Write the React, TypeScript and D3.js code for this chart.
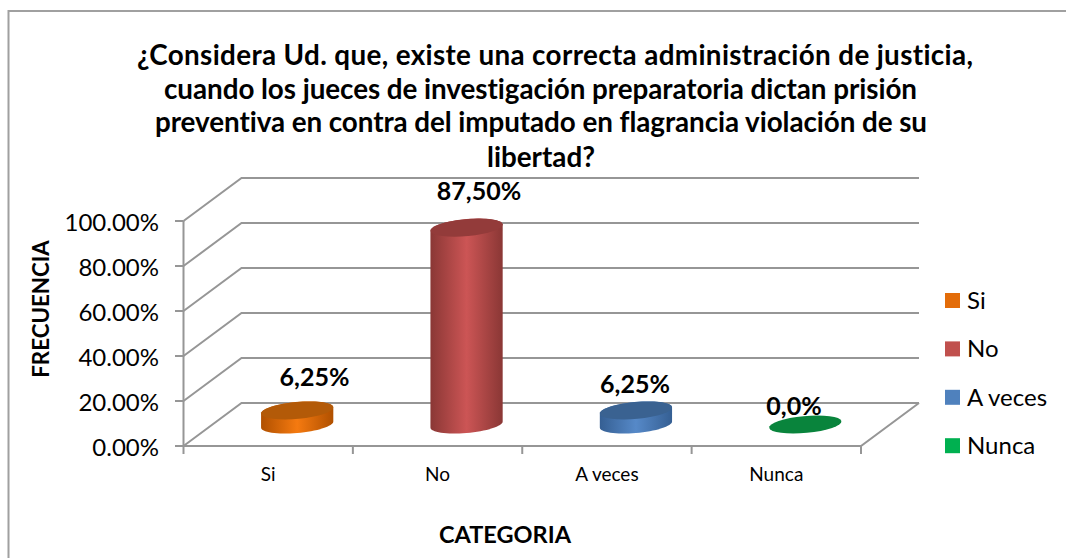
import React from "react";
import * as d3 from "d3";

const titleLines = [
  "¿Considera Ud. que, existe una correcta administración de justicia,",
  "cuando los jueces de investigación preparatoria dictan prisión",
  "preventiva en contra del imputado en flagrancia violación de su",
  "libertad?",
];
const categories = ["Si", "No", "A veces", "Nunca"];
const values = [6.25, 87.5, 6.25, 0];
const valueLabels = ["6,25%", "87,50%", "6,25%", "0,0%"];
const ticks = [0, 20, 40, 60, 80, 100];
const legendColors = ["#e36c09", "#c0504d", "#4f81bd", "#00b050"];
const edgeColors = ["#b05000", "#8a3735", "#355f93", "#09843c"];
const midColors = ["#f57a10", "#cc5555", "#5689c8", "#09843c"];
const topColors = ["#b35a08", "#933b3a", "#3a6291", "#09843c"];

const FONT = "Lato, 'Open Sans', sans-serif";
const GRID = "#969696";
// title line placement: [left edge, width, baseline]
const titleBoxes = [
  [137, 836, 65],
  [164, 753, 98.5],
  [155, 772, 132],
  [487, 108, 167],
];

const x = d3.scaleBand<string>().domain(categories).range([183.5, 861]);
const y = d3.scaleLinear().domain([0, 100]).range([446, 221]);
const DX = 58;
const DY = -43;
const R = 34;
const K = 0.21;

const ell = (cx: number, cy: number, a: number, b: number) => {
  const vx = DX * K;
  const vy = DY * K;
  const n = 32;
  return d3.range(n + 1).map((i) => {
    const t = a + ((b - a) * i) / n;
    return [cx + R * Math.cos(t) + vx * Math.sin(t), cy + vy * Math.sin(t)] as [number, number];
  });
};

export default function App() {
  const line = d3.line();
  const t0 = Math.atan((DX * K) / R);
  return (
    <svg
      width={1066}
      height={558}
      style={{ position: "absolute", left: 0, top: 0, background: "#fff", fontVariantLigatures: "none" }}
      fontFamily={FONT}
    >
      <defs>
        {categories.map((c, i) => (
          <linearGradient key={c} id={`g${i}`} x1="0" x2="1" y1="0" y2="0">
            <stop offset="0" stopColor={edgeColors[i]} />
            <stop offset="0.5" stopColor={midColors[i]} />
            <stop offset="1" stopColor={edgeColors[i]} />
          </linearGradient>
        ))}
      </defs>
      <path d="M8.5,558V11H1066" fill="none" stroke="#a0a0a0" strokeWidth={2} />

      {titleLines.map((l, i) => (
        <text
          key={i}
          x={titleBoxes[i][0]}
          y={titleBoxes[i][2]}
          textLength={titleBoxes[i][1]}
          lengthAdjust="spacing"
          fontSize={27.8}
          fontWeight={700}
          fill="#000"
        >
          {l}
        </text>
      ))}

      {ticks.map((t) => (
        <g key={t} stroke={GRID} strokeWidth={2} fill="none">
          <path d={line([[183.5, y(t)], [183.5 + DX, y(t) + DY], [861 + DX, y(t) + DY]])!} />
          <path d={`M175,${y(t)}H183.5`} />
        </g>
      ))}
      <path d={`M183.5,${y(0)}V${y(100)}M183.5,${y(0)}H861L${861 + DX},${y(0) + DY}`} stroke={GRID} strokeWidth={2} fill="none" />
      {[...categories.map((c) => x(c)!), 861].map((v) => (
        <path key={v} d={`M${v},${y(0)}v8`} stroke={GRID} strokeWidth={2} />
      ))}

      {ticks.map((t) => (
        <text key={t} x={159} y={y(t) + 9.5} textAnchor="end" fontSize={24} fill="#000">
          {t.toFixed(2)}%
        </text>
      ))}

      {categories.map((c, i) => {
        const cx = x(c)! + x.bandwidth() / 2 + DX / 2;
        const by = y(0) + DY / 2;
        const ty = by - (y(0) - y(values[i]));
        const body = [...ell(cx, by, t0 - Math.PI, t0), ...ell(cx, ty, t0, t0 + Math.PI)];
        return (
          <g key={c}>
            {values[i] > 0 && <path d={line(body)! + "Z"} fill={`url(#g${i})`} />}
            <path d={line(ell(cx, ty, 0, 2 * Math.PI))! + "Z"} fill={topColors[i]} />
          </g>
        );
      })}

      {categories.map((c, i) => {
        const cx = x(c)! + x.bandwidth() / 2;
        return (
          <text key={c} x={cx} y={481} textAnchor="middle" fontSize={19} fill="#000">
            {c}
          </text>
        );
      })}

      {[
        [314.5, 386],
        [479, 200],
        [635, 393],
        [794, 415],
      ].map(([lx, ly], i) => (
        <text key={i} x={lx} y={ly} textAnchor="middle" fontSize={25} fontWeight={700} fill="#000">
          {valueLabels[i]}
        </text>
      ))}

      <text x={505} y={543} textAnchor="middle" fontSize={23.5} fontWeight={700} fill="#000">
        CATEGORIA
      </text>
      <text transform="translate(49,309) rotate(-90)" textAnchor="middle" fontSize={22.3} fontWeight={700} fill="#000">
        FRECUENCIA
      </text>

      {categories.map((c, i) => {
        const ly = 293 + i * 48.4;
        return (
          <g key={c}>
            <rect x={945} y={ly} width={15} height={15} fill={legendColors[i]} />
            <text x={967} y={ly + 16} fontSize={24} fill="#000">
              {c}
            </text>
          </g>
        );
      })}
    </svg>
  );
}
